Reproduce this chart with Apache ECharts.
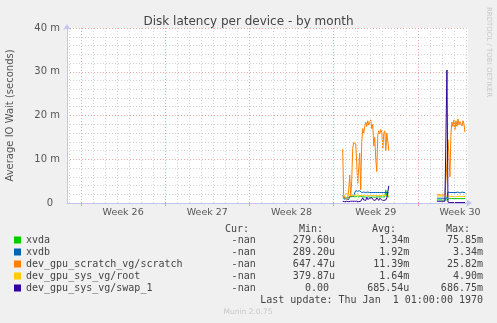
<!DOCTYPE html>
<html>
<head>
<meta charset="utf-8">
<script src="https://cdn.jsdelivr.net/npm/echarts@6/dist/echarts.min.js"></script>
<style>
html, body { margin: 0; padding: 0; background: #f0f0f0; }
#chart { width: 497px; height: 323px; }
</style>
</head>
<body>
<div id="chart"></div>
<script>
// x = hours since Monday of week 26, munin month view keeps one sample per 2 hours
const weekLabels = ['Week 26', 'Week 27', 'Week 28', 'Week 29', 'Week 30'];
const weekStarts = [0, 168, 336, 504, 672];
const weekMids = [84, 252, 420, 588, 756];
const step = 2;
const w29Start = 522;
const w30Start = 710;

const names = ['xvda', 'xvdb', 'dev_gpu_scratch_vg/scratch', 'dev_gpu_sys_vg/root', 'dev_gpu_sys_vg/swap_1'];
const colors = ['#00cc00', '#0066b3', '#ff8000', '#ffcc00', '#330099'];

// values in milliseconds
const xvdaW29 = [1.2, 1.2, 1.1, 1.1, 1.2, 1.2, 1.3, 1.4, 1.4, 1.4, 1.5, 1.4, 1.4, 1.5, 1.5, 1.4, 1.4, 1.4, 1.5, 1.4,
  1.4, 1.3, 1.4, 1.4, 1.3, 1.4, 1.4, 1.4, 1.3, 1.4, 1.4, 1.4, 1.3, 1.4, 1.4, 1.4, 1.4, 1.3, 1.4, 1.4, 1.4, 1.4, 1.4, 3.0, 1.6, 1.4, 1.4];
const xvdbW29 = [1.8, 1.8, 0.8, 0.7, 0.9, 0.8, 0.8, 1.5, 1.4, 1.6, 1.5, 1.6, 2.3, 2.8, 3.0, 2.7, 3.0, 2.8, 2.6, 2.4,
  2.4, 2.5, 2.4, 2.4, 2.4, 2.5, 2.4, 2.4, 2.4, 2.4, 2.5, 2.4, 2.4, 2.4, 2.4, 2.4, 2.5, 2.4, 2.4, 2.4, 2.4, 2.4, 2.4, 2.4, 2.5, 2.4, 2.3];
const scratchW29 = [12.3, 1.0, 1.5, 0.8, 1.2, 1.0, 3.0, 6.4, 1.5, 5.0, 12.5, 13.8, 14.0, 13.5, 9.0, 4.5, 8.0, 11.4, 3.0, 14.0,
  17.0, 16.0, 17.5, 18.5, 17.5, 18.8, 17.8, 18.2, 19.0, 17.0, 18.0, 13.0, 15.0, 10.0, 7.2, 15.5, 16.5, 15.8, 16.8, 16.2,
  12.5, 16.0, 16.5, 12.0, 16.0, 16.2, 12.0];
const rootW29 = [1.6, 1.7, 1.8, 2.0, 2.2, 2.2, 2.0, 1.8, 1.7, 1.7, 1.7, 1.7, 1.8, 1.8, 1.8, 1.7, 1.7, 1.7, 1.7, 1.7,
  1.7, 1.7, 1.8, 1.7, 1.7, 1.7, 1.7, 1.8, 1.7, 1.7, 1.7, 1.7, 1.7, 1.8, 1.7, 1.7, 1.7, 1.7, 1.7, 1.7, 1.8, 1.7, 1.7, 1.7, 1.7, 1.7, 1.7];
const swapW29 = [0.4, 0.4, 0.3, 0.4, 0.4, 0.4, 0.3, 0.4, 0.4, 0.4, 0.4, 0.3, 0.4, 0.4, 0.4, 0.4, 0.3, 0.4, 0.4, 0.8,
  1.2, 0.7, 1.0, 0.6, 1.3, 0.8, 0.6, 1.1, 0.7, 1.2, 0.9, 0.6, 1.0, 0.7, 1.2, 0.8, 0.6, 1.1, 0.9, 0.7, 1.0, 0.6, 0.9, 0.7, 1.2, 0.8, 3.9];

const xvdaW30 = [0.7, 0.7, 0.7, 0.7, 0.7, 0.7, 0.7, 0.7, 0.7, 0.7, 0.7, 1.0, 1.0, 1.0, 1.0, 1.0, 1.0, 1.0, 1.0, 1.0,
  1.0, 1.0, 1.0, 1.0, 1.0, 1.0, 1.0, 1.0, 1.0];
const xvdbW30 = [1.1, 1.1, 1.1, 1.1, 1.1, 1.1, 1.1, 1.1, 1.1, 1.1, 1.1, 2.5, 2.4, 2.4, 2.5, 2.4, 2.3, 2.4, 2.5, 2.4,
  2.4, 2.5, 2.4, 2.3, 2.4, 2.5, 2.4, 2.4, 2.4];
const scratchW30 = [1.8, 1.8, 1.9, 1.8, 1.8, 1.9, 1.8, 1.8, 1.9, 2.0, 9.0, 14.5, 11.0, 6.0, 16.0, 18.5, 17.5, 19.0, 16.8, 18.8,
  17.5, 19.2, 17.8, 18.6, 19.0, 17.6, 18.8, 18.0, 16.2];
const rootW30 = [1.6, 1.6, 1.6, 1.6, 1.6, 1.6, 1.6, 1.6, 1.6, 1.6, 1.6, 1.5, 1.5, 1.5, 1.5, 1.5, 1.5, 1.5, 1.5, 1.5,
  1.5, 1.5, 1.5, 1.5, 1.5, 1.5, 1.5, 1.5, 1.5];
const swapW30 = [0.4, 0.4, 0.4, 0.4, 0.4, 0.4, 0.4, 0.4, 0.4, 0.5, 30.4, 0.2, 0.1, 0.1, 0.1, 0.1, 0.1, 0.1, 0.1, 0.1,
  0.1, 0.1, 0.1, 0.1, 0.1, 0.1, 0.1, 0.1, 0.1];

// legend table
const statHeaders = ['Cur:', 'Min:', 'Avg:', 'Max:'];
const curVals = ['-nan', '-nan', '-nan', '-nan', '-nan'];
const minVals = ['279.60u', '289.20u', '647.47u', '379.87u', '0.00 '];
const avgVals = ['1.34m', '1.92m', '11.39m', '1.64m', '685.54u'];
const maxVals = ['75.85m', '3.34m', '25.82m', '4.90m', '686.75m'];
const lastUpdate = 'Last update: Thu Jan  1 01:00:00 1970';

const MONO = '"DejaVu Sans Mono", monospace';
const SANS = '"DejaVu Sans", sans-serif';

function toPoints(a, b) {
  return a.map((v, i) => [w29Start + i * step, v])
    .concat([[640, '-']])
    .concat(b.map((v, i) => [w30Start + i * step, v]));
}

const seriesData = [
  toPoints(xvdaW29, xvdaW30),
  toPoints(xvdbW29, xvdbW30),
  toPoints(scratchW29, scratchW30),
  toPoints(rootW29, rootW30),
  toPoints(swapW29, swapW30)
];

// daily grey and weekly red vertical grid lines
const gridLines = [];
for (let h = -24; h <= 768; h += 24) {
  if (weekStarts.indexOf(h) < 0) {
    gridLines.push({ xAxis: h, lineStyle: { color: '#d4d4d4', type: [1, 2], width: 1 } });
  }
}
weekStarts.forEach(h => {
  gridLines.push({ xAxis: h, lineStyle: { color: '#e8a4a4', type: [1, 2], width: 1 } });
});

const cellStyle = { fontFamily: MONO, fontSize: 10, color: '#444', lineHeight: 12 };
const headStyle = { font: '10px ' + MONO, fill: '#444', align: 'right', verticalAlign: 'middle' };
const chart = echarts.init(document.getElementById('chart'));

chart.setOption({
  backgroundColor: '#f0f0f0',
  animation: false,
  title: {
    text: 'Disk latency per device - by month',
    left: 'center',
    top: 11,
    textStyle: { fontFamily: SANS, fontSize: 12, fontWeight: 'normal', color: '#444' }
  },
  grid: {
    left: 67, top: 28, width: 401, height: 175,
    outerBoundsMode: 'none',
    show: true, backgroundColor: '#ffffff', borderWidth: 0
  },
  xAxis: {
    type: 'value',
    min: -28,
    max: 772,
    splitLine: { show: false },
    axisLine: {
      lineStyle: { color: '#c4c4f0', width: 1 },
      symbol: ['none', 'arrow'],
      symbolSize: [6, 6],
      symbolOffset: [0, 4]
    },
    axisTick: {
      show: true,
      customValues: weekStarts,
      length: 3,
      lineStyle: { color: '#e8a4a4' }
    },
    axisLabel: {
      customValues: weekMids,
      formatter: v => weekLabels[weekMids.indexOf(v)],
      fontFamily: SANS,
      fontSize: 9.5,
      color: '#555',
      margin: 5
    }
  },
  yAxis: [
    {
      type: 'value', min: 0, max: 40, interval: 2, position: 'left',
      axisLine: { show: false }, axisTick: { show: false }, axisLabel: { show: false },
      splitLine: { lineStyle: { color: '#d4d4d4', type: [1, 2] } }
    },
    {
      type: 'value', min: 0, max: 40, interval: 10, position: 'left',
      name: 'Average IO Wait (seconds)',
      nameLocation: 'middle',
      nameGap: 52,
      nameTextStyle: { fontFamily: SANS, fontSize: 10, color: '#555' },
      axisLine: {
        show: true,
        lineStyle: { color: '#c4c4f0', width: 1 },
        symbol: ['none', 'arrow'],
        symbolSize: [6, 6],
        symbolOffset: [0, 4]
      },
      axisTick: { show: false },
      axisLabel: {
        formatter: v => (v === 0 ? '{z|0}' : v + ' m'),
        fontFamily: SANS, fontSize: 10, color: '#555', margin: 7,
        rich: { z: { fontFamily: SANS, fontSize: 10, color: '#555', padding: [0, 7, 0, 0] } }
      },
      splitLine: { lineStyle: { color: '#e8a4a4', type: [1, 2] } }
    }
  ],
  legend: {
    data: names,
    orient: 'vertical',
    left: 14,
    top: 234,
    padding: 0,
    itemGap: 0,
    itemWidth: 7,
    itemHeight: 7,
    icon: 'rect',
    selectedMode: false,
    formatter: name => {
      const i = names.indexOf(name);
      return '{n|' + name + '}{c|' + curVals[i] + '}{mi|' + minVals[i] + '}{a|' + avgVals[i] + '}{mx|' + maxVals[i] + '}';
    },
    textStyle: {
      fontFamily: MONO, fontSize: 10, color: '#444', lineHeight: 12,
      rich: {
        n: Object.assign({ width: 190 }, cellStyle),
        c: Object.assign({ width: 39.7, align: 'right' }, cellStyle),
        mi: Object.assign({ width: 79.3, align: 'right' }, cellStyle),
        a: Object.assign({ width: 74.3, align: 'right' }, cellStyle),
        mx: Object.assign({ width: 73.7, align: 'right' }, cellStyle)
      }
    }
  },
  graphic: [
    { type: 'text', x: 249, y: 229, style: Object.assign({ text: statHeaders[0] }, headStyle) },
    { type: 'text', x: 323, y: 229, style: Object.assign({ text: statHeaders[1] }, headStyle) },
    { type: 'text', x: 396, y: 229, style: Object.assign({ text: statHeaders[2] }, headStyle) },
    { type: 'text', x: 470, y: 229, style: Object.assign({ text: statHeaders[3] }, headStyle) },
    { type: 'text', x: 483, y: 300, style: Object.assign({ text: lastUpdate }, headStyle) },
    { type: 'text', x: 248, y: 312, style: { text: 'Munin 2.0.75', font: '7.5px ' + SANS, fill: '#c8c8c8', align: 'center', verticalAlign: 'middle' } },
    { type: 'text', x: 489, y: 52, rotation: -Math.PI / 2, style: { text: 'RRDTOOL / TOBI OETIKER', font: '7px ' + SANS, fill: '#c8c8c8', align: 'center', verticalAlign: 'middle' } }
  ],
  series: [
    {
      // grid lines only
      type: 'line',
      yAxisIndex: 1,
      data: [],
      silent: true,
      markLine: {
        silent: true,
        symbol: ['none', 'none'],
        label: { show: false },
        animation: false,
        data: gridLines
      }
    }
  ].concat(names.map((name, i) => ({
    name: name,
    type: 'line',
    yAxisIndex: 1,
    data: seriesData[i],
    showSymbol: false,
    connectNulls: false,
    color: colors[i],
    lineStyle: { color: colors[i], width: 1 },
    itemStyle: { color: colors[i] }
  })))
});
</script>
</body>
</html>
